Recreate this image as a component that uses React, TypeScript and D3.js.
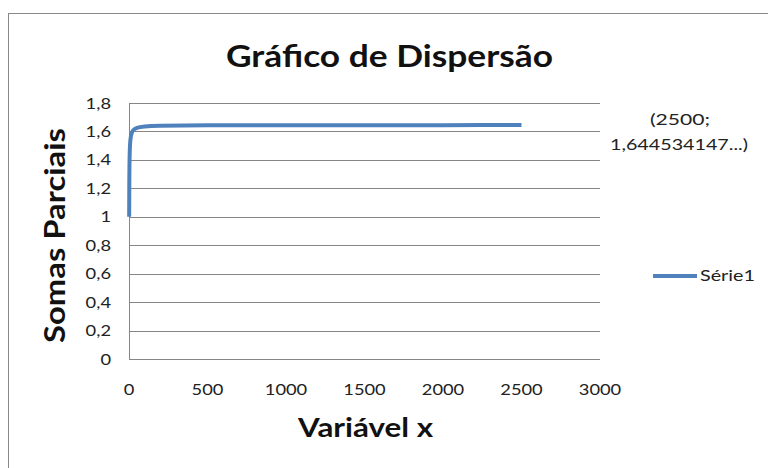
import React from 'react';
import * as d3 from 'd3';

// partial sums (n, S_n)
const xValues = [1, 2, 3, 4, 5, 10, 20, 30, 50, 100, 200, 500, 1000, 1500, 2000, 2500];
const yValues = [1, 1.25, 1.361, 1.424, 1.464, 1.55, 1.596, 1.612, 1.625, 1.635, 1.64, 1.643, 1.644, 1.6443, 1.6444, 1.6445];
const xTicks = [0, 500, 1000, 1500, 2000, 2500, 3000];
const yTicks = [0, 0.2, 0.4, 0.6, 0.8, 1, 1.2, 1.4, 1.6, 1.8];
const seriesName = 'Série1';
const annotation = ['(2500;', '1,644534147...)'];

const font = 'Lato, "Open Sans", sans-serif';

// stretched text, the source chart looks horizontally stretched
const Label = ({ x, y, sx = 1.22, anchor = 'middle', size = 15, bold = false, children }: any) => (
  <text
    transform={`translate(${x},${y}) scale(${sx},1)`}
    textAnchor={anchor}
    fontFamily={font}
    fontSize={size}
    fontWeight={bold ? 'bold' : 'normal'}
    fill={bold ? '#111' : '#222'}
  >
    {children}
  </text>
);

const App = () => {
  const width = 768;
  const height = 468;
  const plot = { left: 129, right: 600, top: 103, bottom: 359 };

  const x = d3.scaleLinear().domain([0, 3000]).range([plot.left, plot.right]);
  const y = d3.scaleLinear().domain([0, 1.8]).range([plot.bottom, plot.top]);

  const points = xValues.map((v, i) => [v, yValues[i]] as [number, number]);
  const line = d3.line<[number, number]>()
    .x(d => x(d[0]))
    .y(d => y(d[1]))
    .curve(d3.curveMonotoneX);

  const fmt = (v: number) => String(v).replace('.', ',');

  return (
    <svg width={width} height={height} style={{ position: 'absolute', left: 0, top: 0, background: '#fff' }}>
      {/* outer chart frame */}
      <line x1={8.5} x2={8.5} y1={13} y2={height} stroke="#888" />
      <line x1={8} x2={width} y1={13.5} y2={13.5} stroke="#888" />

      <text x={389.5} y={67} textAnchor="middle" fontFamily={font} fontWeight="bold" fontSize={30} fill="#111"
        textLength={327} lengthAdjust="spacingAndGlyphs">
        Gráfico de Dispersão
      </text>

      {yTicks.map(t => (
        <g key={t}>
          <line x1={plot.left} x2={plot.right} y1={Math.round(y(t)) + 0.5} y2={Math.round(y(t)) + 0.5} stroke="#868686" />
          <Label x={111} y={y(t) + 5.5} anchor="end">{fmt(t)}</Label>
        </g>
      ))}
      <line x1={plot.left + 0.5} x2={plot.left + 0.5} y1={plot.top} y2={plot.bottom} stroke="#868686" />

      {xTicks.map(t => (
        <Label key={t} x={x(t)} y={395}>{t}</Label>
      ))}

      <path d={line(points) || ''} fill="none" stroke="#4F81BD" strokeWidth={4} strokeLinejoin="round" />

      <text x={365.5} y={437} textAnchor="middle" fontFamily={font} fontWeight="bold" fontSize={26} fill="#111"
        textLength={135} lengthAdjust="spacingAndGlyphs">
        Variável x
      </text>
      <text transform="translate(65,235.5) rotate(-90)" textAnchor="middle" fontFamily={font} fontWeight="bold" fontSize={28} fill="#111"
        textLength={215} lengthAdjust="spacingAndGlyphs">
        Somas Parciais
      </text>

      <text x={680} y={125} textAnchor="middle" fontFamily={font} fontSize={15} fill="#222"
        textLength={60} lengthAdjust="spacingAndGlyphs">{annotation[0]}</text>
      <text x={679} y={150} textAnchor="middle" fontFamily={font} fontSize={15} fill="#222"
        textLength={138} lengthAdjust="spacingAndGlyphs">{annotation[1]}</text>

      <line x1={653} x2={697} y1={276} y2={276} stroke="#4F81BD" strokeWidth={4} />
      <text x={700} y={281} fontFamily={font} fontSize={16} fill="#222"
        textLength={55} lengthAdjust="spacingAndGlyphs">{seriesName}</text>
    </svg>
  );
};

export default App;
